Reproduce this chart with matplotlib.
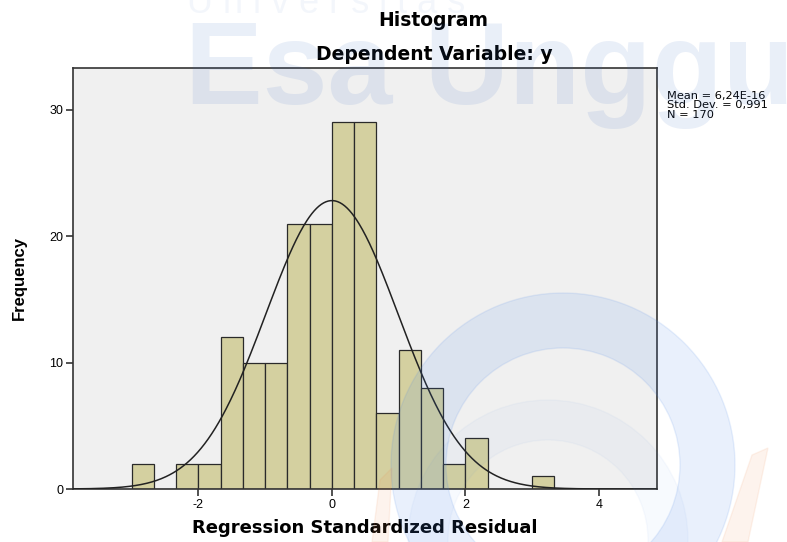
import numpy as np
import matplotlib
matplotlib.use("Agg")
import matplotlib.pyplot as plt
from matplotlib.patches import Wedge, Polygon

# Data
bin_start = -3.0
bin_width = 1.0 / 3.0
counts = [2, 0, 2, 2, 12, 10, 10, 21, 21, 29, 29, 6, 11, 8, 2, 4, 0, 0, 1]
mean_val = 6.24e-16
std_val = 0.991
n_val = 170
xticks = [-2, 0, 2, 4]
yticks = [0, 10, 20, 30]

plt.rcParams['font.family'] = ['Liberation Sans', 'DejaVu Sans']

W, H = 787, 542
fig = plt.figure(figsize=(7.87, 5.42), dpi=100)
fig.patch.set_facecolor('white')
ax = fig.add_axes([73/W, 53/H, 584/W, 421/H])
ax.set_facecolor('#F0F0F0')

edges = bin_start + bin_width * np.arange(len(counts))
ax.bar(edges, counts, width=bin_width, align='edge', color='#D4D0A0',
       edgecolor='#2a2a2a', linewidth=0.9, zorder=2)

xs = np.linspace(-3.9, 4.9, 500)
pdf = n_val * bin_width / (std_val * np.sqrt(2 * np.pi)) * np.exp(-0.5 * ((xs - mean_val) / std_val) ** 2)
ax.plot(xs, pdf, color='#222222', linewidth=1.1, zorder=3)

ax.set_xlim(-3.88, 4.87)
ax.set_ylim(0, 33.3)
ax.set_xticks(xticks)
ax.set_xticklabels([str(t) for t in xticks])
ax.set_yticks(yticks)
ax.tick_params(direction='out', length=5, width=1.2, color='#333333', labelsize=9, pad=2)
for s in ax.spines.values():
    s.set_color('#333333')
    s.set_linewidth(1.2)

ax.set_xlabel('Regression Standardized Residual', fontsize=13, fontweight='bold',
              family=['DejaVu Sans'], labelpad=6)
ax.set_ylabel('Frequency', fontsize=12, fontweight='bold', labelpad=16)

fig.text(433/W, 1 - 20/H, 'Histogram', ha='center', va='center', fontsize=13.5,
         fontweight='bold', family=['DejaVu Sans'])
fig.text(434/W, 1 - 55/H, 'Dependent Variable: y', ha='center', va='center', fontsize=13.5,
         fontweight='bold', family=['DejaVu Sans'])

fig.text(667/W, 1 - 91/H, 'Mean = 6,24E-16\nStd. Dev. = 0,991\nN = 170',
         ha='left', va='top', fontsize=8.2, linespacing=0.92, family=['DejaVu Sans'])

# Watermark (semi-transparent overlay)
fig.text(185/W, 1 - 104/H, 'Esa Unggu', ha='left', va='baseline', fontsize=84,
         fontweight='bold', color='#3B6FC4', alpha=0.11, zorder=10)
fig.text(187/W, 1 - 13/H, 'U n i v e r s i t a s', ha='left', va='baseline', fontsize=26,
         color='#3B6FC4', alpha=0.06, zorder=10)
w1 = Wedge((563, H - 465), 172, 0, 360, width=55, transform=None,
           color='#4A86E8', alpha=0.12, zorder=10)
w2 = Wedge((548, H - 540), 140, 0, 360, width=40, transform=None,
           color='#4A86E8', alpha=0.04, zorder=10)
o1 = Polygon([(372, H - 542), (380, H - 480), (392, H - 468), (388, H - 542)], closed=True,
             transform=None, color='#F28C50', alpha=0.10, zorder=10)
o2 = Polygon([(722, H - 542), (752, H - 455), (768, H - 448), (748, H - 542)], closed=True,
             transform=None, color='#F28C50', alpha=0.10, zorder=10)
fig.patches.extend([w1, w2, o1, o2])

fig.savefig('out.png', dpi=100)
